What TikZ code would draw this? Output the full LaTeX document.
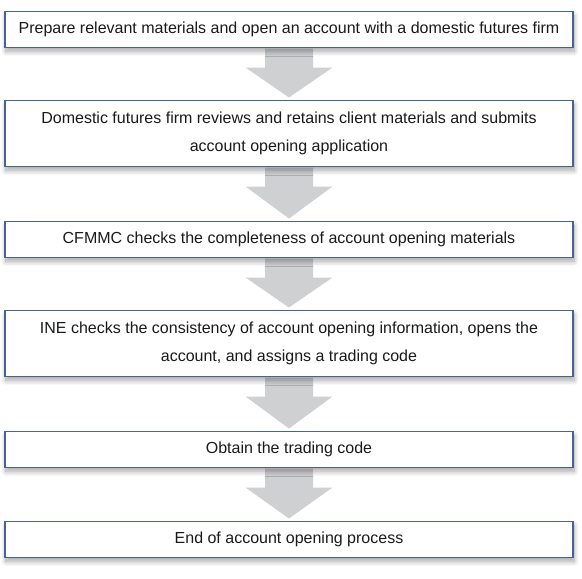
\documentclass[tikz,border=0pt]{standalone}
\usepackage{fontspec}
\setmainfont{Liberation Sans}
\usepackage{tikz}
\usetikzlibrary{positioning, calc, shadows.blur, backgrounds}
\definecolor{boxline}{RGB}{72,98,148}
\definecolor{arrowgray}{RGB}{207,208,210}
\definecolor{inkdark}{RGB}{26,26,26}

\begin{document}
\begin{tikzpicture}[
    x=1pt, y=1pt,
    stepbox/.style={draw=boxline, line width=1.1pt, fill=white, outer sep=0pt,
      minimum width=568pt, minimum height=36pt, inner sep=4pt,
      align=center, text=inkdark, font=\fontsize{16}{28}\selectfont,
      blur shadow={shadow xshift=1pt, shadow yshift=-4pt, shadow blur steps=12,
        shadow blur radius=5pt, shadow opacity=35}},
    tallbox/.style={stepbox, minimum height=66pt},
    node distance=54pt
  ]
  \useasboundingbox (0,0) rectangle (582,-579);

  % Steps
  \node[stepbox] (prep) at (289,-29.5) {Prepare relevant materials and open an account with a domestic futures firm};
  \node[tallbox, below=53pt of prep] (review) {Domestic futures firm reviews and retains client materials and submits\\account opening application};
  \node[stepbox, below=55pt of review] (cfmmc) {CFMMC checks the completeness of account opening materials};
  \node[tallbox, below=53pt of cfmmc] (ine) {INE checks the consistency of account opening information, opens the\\account, and assigns a trading code};
  \node[stepbox, below=55pt of ine] (obtain) {Obtain the trading code};
  \node[stepbox, below=54pt of obtain] (finish) {End of account opening process};

  % Block arrows
  \begin{scope}[on background layer]
    \foreach \a/\b in {prep/review, review/cfmmc, cfmmc/ine, ine/obtain, obtain/finish} {
      \fill[arrowgray] ($(\a.south)+(-24,-1)$) -- ($(\a.south)+(24,-1)$)
        -- ($(\a.south)+(24,-20)$) -- ($(\a.south)+(43.5,-20)$)
        -- ($(\b.north)+(0,3)$)
        -- ($(\a.south)+(-43.5,-20)$) -- ($(\a.south)+(-24,-20)$) -- cycle;
    }
  \end{scope}
\end{tikzpicture}
\end{document}
